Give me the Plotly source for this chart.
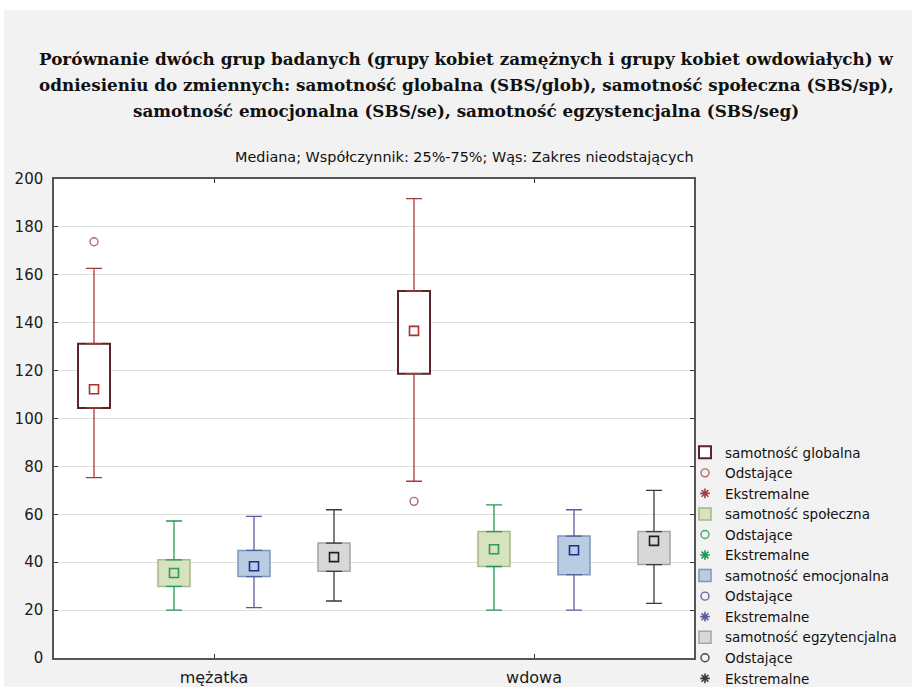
import plotly.graph_objects as go

categories = ["mężatka", "wdowa"]
series_names = ["samotność globalna", "samotność społeczna", "samotność emocjonalna", "samotność egzytencjalna"]

q1 = {
    "samotność globalna": [104.4, 118.7],
    "samotność społeczna": [29.9, 38.2],
    "samotność emocjonalna": [34.0, 34.8],
    "samotność egzytencjalna": [36.2, 39.0],
}
median = {
    "samotność globalna": [112.2, 136.6],
    "samotność społeczna": [35.5, 45.4],
    "samotność emocjonalna": [38.3, 45.0],
    "samotność egzytencjalna": [42.1, 48.9],
}
q3 = {
    "samotność globalna": [131.2, 153.2],
    "samotność społeczna": [41.0, 52.8],
    "samotność emocjonalna": [44.9, 50.9],
    "samotność egzytencjalna": [48.0, 52.8],
}
whisker_low = {
    "samotność globalna": [75.3, 73.8],
    "samotność społeczna": [20.0, 20.0],
    "samotność emocjonalna": [21.0, 20.0],
    "samotność egzytencjalna": [23.8, 22.8],
}
whisker_high = {
    "samotność globalna": [162.7, 191.8],
    "samotność społeczna": [57.2, 63.9],
    "samotność emocjonalna": [59.1, 61.9],
    "samotność egzytencjalna": [61.9, 70.0],
}
# outliers: (category index, value)
outliers = {
    "samotność globalna": [(0, 173.8), (1, 65.4)],
    "samotność społeczna": [],
    "samotność emocjonalna": [],
    "samotność egzytencjalna": [],
}
y_ticks = [0, 20, 40, 60, 80, 100, 120, 140, 160, 180, 200]

title_lines = [
    "Porównanie dwóch grup badanych (grupy kobiet zamężnych i grupy kobiet owdowiałych) w",
    "odniesieniu do zmiennych: samotność globalna (SBS/glob), samotność społeczna (SBS/sp),",
    "samotność emocjonalna (SBS/se), samotność egzystencjalna (SBS/seg)",
]
subtitle = "Mediana; Współczynnik: 25%-75%; Wąs: Zakres nieodstających"

styles = {
    "samotność globalna": dict(fill="#ffffff", edge="#5a2428", whisk="#a83a3a", med="#a83232", out="#b36a6a", edgew=2.0),
    "samotność społeczna": dict(fill="#d6e3bc", edge="#a7b88a", whisk="#1f9a55", med="#2f9a55", out="#3fa86a", edgew=1.5),
    "samotność emocjonalna": dict(fill="#b8cce4", edge="#7d97b8", whisk="#5a5ca0", med="#26288a", out="#6a6aa8", edgew=1.5),
    "samotność egzytencjalna": dict(fill="#d8d8d8", edge="#a5a5a5", whisk="#3a3a3a", med="#202020", out="#444444", edgew=1.5),
}
offsets = [-0.375, -0.125, 0.125, 0.375]
box_w = 0.1

SANS = "DejaVu Sans"
SERIF = "DejaVu Serif"

fig = go.Figure()
cat_idx = list(range(len(categories)))

for s, off in zip(series_names, offsets):
    st = styles[s]
    xs = [i + off for i in cat_idx]
    # whiskers (upper and lower), drawn via error bars
    fig.add_trace(go.Scatter(
        x=xs, y=q3[s], mode="lines", showlegend=False, hoverinfo="skip",
        line=dict(color=st["whisk"], width=0),
        error_y=dict(type="data", symmetric=False,
                     array=[h - t for h, t in zip(whisker_high[s], q3[s])],
                     arrayminus=[0] * len(xs), color=st["whisk"], thickness=1.3, width=8),
    ))
    fig.add_trace(go.Scatter(
        x=xs, y=q1[s], mode="lines", showlegend=False, hoverinfo="skip",
        line=dict(color=st["whisk"], width=0),
        error_y=dict(type="data", symmetric=False,
                     array=[0] * len(xs),
                     arrayminus=[b - l for b, l in zip(q1[s], whisker_low[s])],
                     color=st["whisk"], thickness=1.3, width=8),
    ))
    # box (25%-75%)
    fig.add_trace(go.Bar(
        x=xs, y=[t - b for t, b in zip(q3[s], q1[s])], base=q1[s], width=box_w,
        marker=dict(color=st["fill"], line=dict(color=st["edge"], width=st["edgew"])),
        name=s, legendgroup=s, showlegend=True,
    ))
    # median marker
    fig.add_trace(go.Scatter(
        x=xs, y=median[s], mode="markers", showlegend=False, legendgroup=s,
        marker=dict(symbol="square-open", size=9, color=st["med"], line=dict(width=1.6, color=st["med"])),
    ))
    # outliers
    ox = [i + off for i, _ in outliers[s]]
    oy = [v for _, v in outliers[s]]
    fig.add_trace(go.Scatter(
        x=ox if ox else [None], y=oy if oy else [None], mode="markers", name="Odstające",
        legendgroup=s + "_o",
        marker=dict(symbol="circle-open", size=8, color=st["out"], line=dict(width=1.4, color=st["out"])),
    ))
    # extremes (none present)
    fig.add_trace(go.Scatter(
        x=[None], y=[None], mode="markers", name="Ekstremalne", legendgroup=s + "_e",
        marker=dict(symbol="asterisk-open", size=8, color=st["whisk"], line=dict(width=1.6, color=st["whisk"])),
    ))

L, R, T, B = 54, 218, 179, 29
W, H = 912, 687
pw = W - L - R
ph = H - T - B

def px_x(p):
    return (p - L) / pw

def px_y(p):
    return (H - B - p) / ph

# background: grey panel with thin white strip at top/left
fig.add_shape(type="rect", xref="paper", yref="paper", x0=px_x(4), x1=px_x(W + 5), y0=px_y(H + 5), y1=px_y(10),
              fillcolor="#f2f2f2", line=dict(width=0), layer="below")
fig.add_shape(type="rect", xref="paper", yref="paper", x0=0, x1=1, y0=0, y1=1,
              fillcolor="#ffffff", line=dict(width=0), layer="below")

for line_text, yc in zip(title_lines, [59, 85, 111]):
    fig.add_annotation(text="<b>" + line_text + "</b>", xref="paper", yref="paper", x=px_x(466), y=px_y(yc),
                       xanchor="center", yanchor="middle", showarrow=False, align="center",
                       font=dict(family=SERIF, size=16.8, color="#111111"))
fig.add_annotation(text=subtitle,
                   xref="paper", yref="paper", x=px_x(464), y=px_y(157),
                   xanchor="center", yanchor="middle", showarrow=False,
                   font=dict(family=SANS, size=14.4, color="#111111"))

fig.update_layout(
    width=W, height=H,
    margin=dict(l=L, r=R, t=T, b=B, autoexpand=False),
    paper_bgcolor="#ffffff", plot_bgcolor="#ffffff",
    barmode="overlay",
    font=dict(family=SANS, color="#1a1a1a"),
    legend=dict(x=px_x(685), xanchor="left", y=px_y(437), yanchor="top",
                bgcolor="rgba(0,0,0,0)", font=dict(size=13.5, color="#111111"),
                tracegroupgap=0, itemwidth=30, traceorder="normal"),
    xaxis=dict(range=[-0.5, len(categories) - 0.5], tickmode="array", tickvals=cat_idx, ticktext=categories,
               showgrid=False, zeroline=False, showline=True, linecolor="#555555", linewidth=1.5,
               mirror="ticks", ticks="inside", ticklen=4, tickcolor="#333333",
               ticklabelstandoff=4,
               tickfont=dict(size=16, color="#1a1a1a")),
    yaxis=dict(range=[0, 200], tickmode="array", tickvals=y_ticks,
               showgrid=True, gridcolor="#dedede", gridwidth=1.2, zeroline=False,
               showline=True, linecolor="#555555", linewidth=1.5,
               mirror="ticks", ticks="inside", ticklen=4, tickcolor="#333333",
               ticklabelstandoff=6,
               tickfont=dict(size=15, color="#1a1a1a")),
)
fig.write_html("out.html", config={"displayModeBar": False},
               post_script="document.body.style.margin='0px';document.body.style.overflow='hidden';")
